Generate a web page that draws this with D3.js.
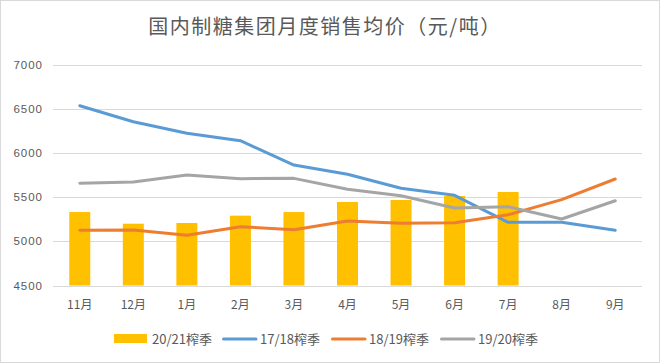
<!DOCTYPE html>
<html lang="zh">
<head>
<meta charset="UTF-8">
<title>国内制糖集团月度销售均价</title>
<script src="https://d3js.org/d3.v7.min.js"></script>
<style>
body { margin: 0; background: #fff; }
svg { display: block; font-family: "Noto Sans CJK SC", "Liberation Sans", sans-serif; }
</style>
</head>
<body>
<svg></svg>
<script>
// months of the season
const months = ["11月", "12月", "1月", "2月", "3月", "4月", "5月", "6月", "7月", "8月", "9月"];
const yTicks = [4500, 5000, 5500, 6000, 6500, 7000];

// 20/21 season (bars, only through July)
const s2021 = [5331, 5199, 5207, 5290, 5331, 5445, 5467, 5512, 5558];
// line series
const s1718 = [6534, 6353, 6222, 6138, 5863, 5758, 5600, 5520, 5215, 5215, 5124];
const s1819 = [5124, 5128, 5068, 5165, 5131, 5230, 5203, 5211, 5301, 5471, 5705];
const s1920 = [5656, 5671, 5750, 5708, 5712, 5588, 5516, 5377, 5391, 5252, 5459];

let width = 661, height = 364;
let svg = d3.select("svg").attr("width", width).attr("height", height);

svg.append("rect")
  .attr("x", 0.5).attr("y", 0.5)
  .attr("width", 659).attr("height", 362)
  .attr("fill", "white")
  .attr("stroke", "#d9d9d9");

let x = d3.scaleBand().domain(months).range([53, 642]);
let y = d3.scaleLinear().domain([4500, 7000]).range([285.5, 64.5]);

// grid
svg.append("g").selectAll("line").data(yTicks).enter().append("line")
  .attr("x1", 53).attr("x2", 642)
  .attr("y1", d => Math.round(y(d)) + 0.5)
  .attr("y2", d => Math.round(y(d)) + 0.5)
  .attr("stroke", "#d9d9d9")
  .attr("stroke-width", 1);

// y labels
svg.append("g").selectAll("text").data(yTicks).enter().append("text")
  .attr("x", 43)
  .attr("y", d => y(d))
  .attr("dy", "0.35em")
  .attr("text-anchor", "end")
  .attr("fill", "#595959")
  .style("font-family", "'Liberation Sans', sans-serif")
  .style("font-size", "11.5px")
  .style("letter-spacing", "1px")
  .text(d => d);

// x labels
svg.append("g").selectAll("text").data(months).enter().append("text")
  .attr("x", d => x(d) + x.bandwidth() / 2)
  .attr("y", 309)
  .attr("text-anchor", "middle")
  .attr("fill", "#595959")
  .style("font-size", "12px")
  .text(d => d);

// bars
let bw = 21;
svg.append("g").selectAll("rect").data(s2021).enter().append("rect")
  .attr("x", (d, i) => x(months[i]) + x.bandwidth() / 2 - bw / 2)
  .attr("y", d => y(d))
  .attr("width", bw)
  .attr("height", d => y(4500) - y(d))
  .attr("fill", "#ffc000");

// lines
function addLine(data, color) {
  svg.append("path")
    .attr("d", d3.line()
      .x((d, i) => x(months[i]) + x.bandwidth() / 2)
      .y(d => y(d))(data))
    .attr("fill", "none")
    .attr("stroke", color)
    .attr("stroke-width", 3)
    .attr("stroke-linejoin", "round")
    .attr("stroke-linecap", "round");
}
addLine(s1718, "#5b9bd5");
addLine(s1819, "#ed7d31");
addLine(s1920, "#a5a5a5");

// title
svg.append("text")
  .attr("x", 325)
  .attr("y", 34)
  .attr("text-anchor", "middle")
  .attr("fill", "#595959")
  .style("font-size", "20px")
  .style("letter-spacing", "1.5px")
  .text("国内制糖集团月度销售均价（元/吨）");

// legend
let legend = [
  {name: "20/21榨季", color: "#ffc000", bar: true, x: 114},
  {name: "17/18榨季", color: "#5b9bd5", bar: false, x: 222},
  {name: "18/19榨季", color: "#ed7d31", bar: false, x: 331},
  {name: "19/20榨季", color: "#a5a5a5", bar: false, x: 440}
];
let lg = svg.append("g");
legend.forEach(d => {
  if (d.bar) {
    lg.append("rect").attr("x", d.x).attr("y", 334).attr("width", 33).attr("height", 9).attr("fill", d.color);
  } else {
    lg.append("line").attr("x1", d.x + 1.5).attr("x2", d.x + 34).attr("y1", 339).attr("y2", 339)
      .attr("stroke", d.color).attr("stroke-width", 3).attr("stroke-linecap", "round");
  }
  lg.append("text")
    .attr("x", d.x + 38)
    .attr("y", 344)
    .attr("fill", "#595959")
    .style("font-size", "13px")
    .text(d.name);
});
</script>
</body>
</html>
